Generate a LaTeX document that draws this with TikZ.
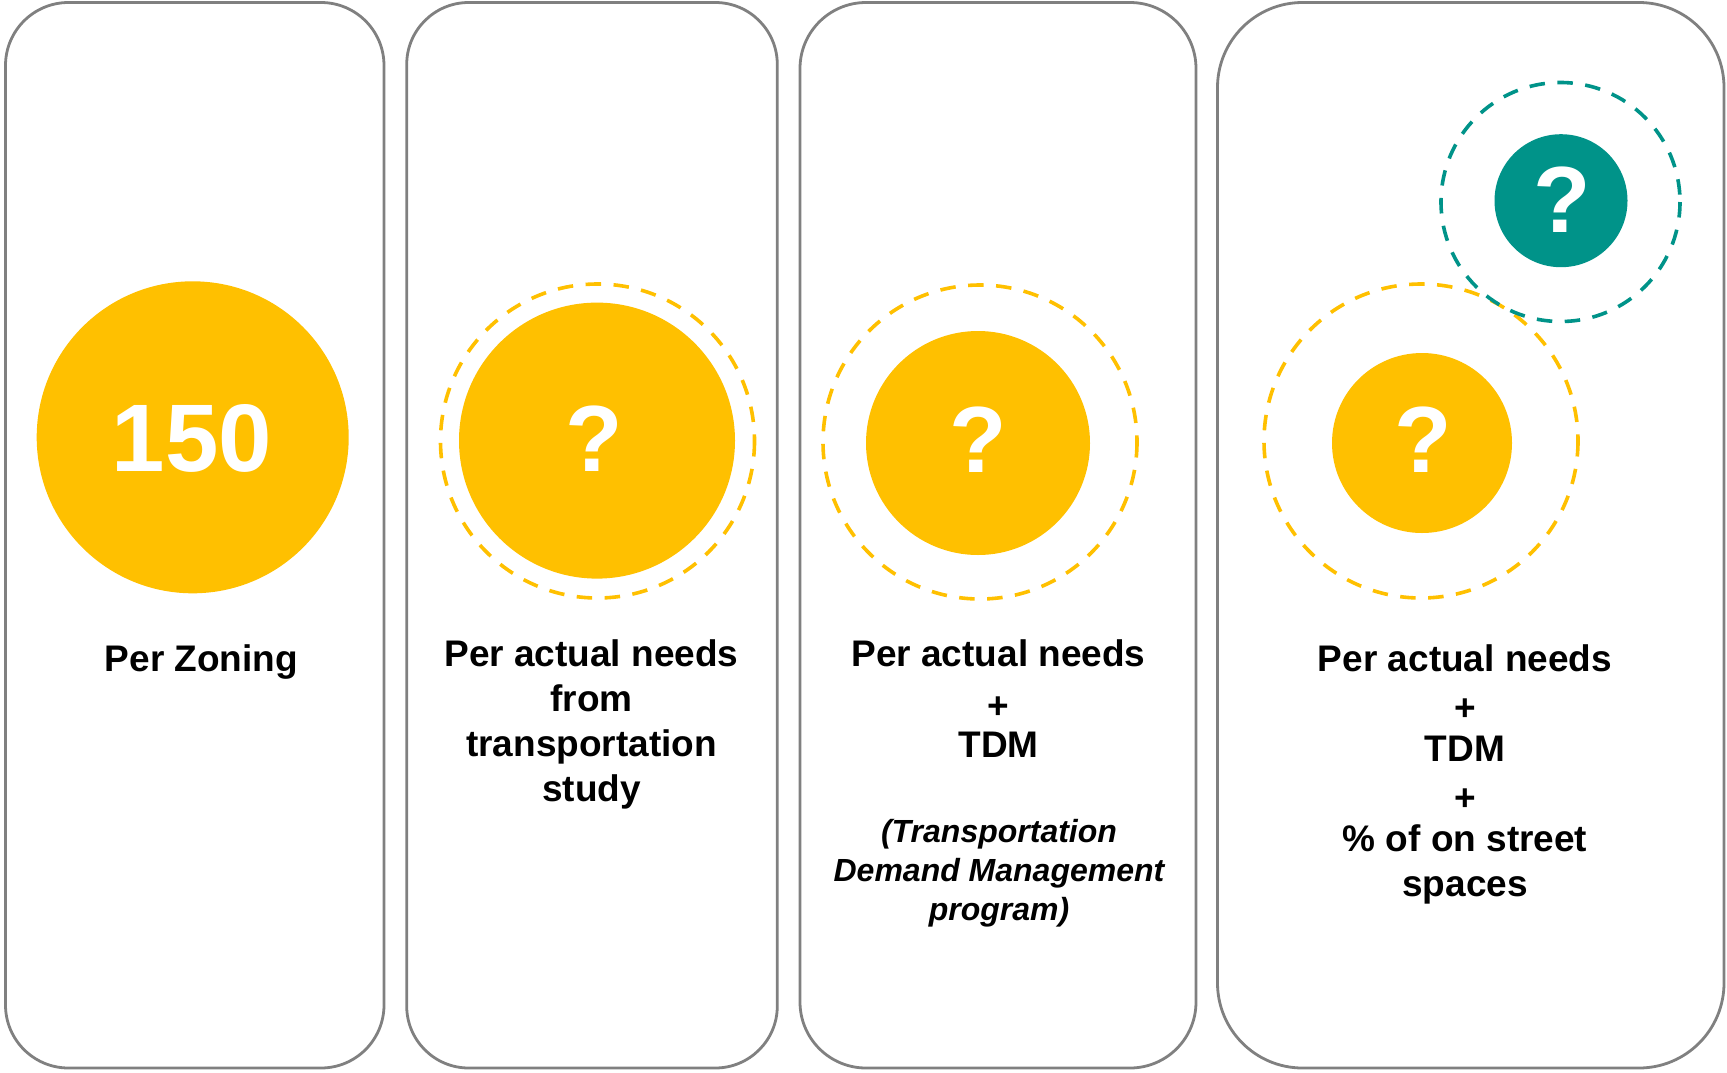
\documentclass[tikz,border=0pt]{standalone}
\usepackage{fontspec}
\setmainfont{Liberation Sans}
\definecolor{gold}{HTML}{FFC000}
\definecolor{tealc}{HTML}{009389}
\definecolor{framec}{HTML}{808080}
\begin{document}
\begin{tikzpicture}[x=1pt,y=-1pt,
 panel/.style={draw=framec,line width=2.8pt},
 disc/.style={circle,fill=gold,draw=none,inner sep=0pt},
 ring/.style={draw=gold,line width=3.6pt,dash pattern=on 15.5pt off 12.5pt},
 lbl/.style={anchor=base,font=\bfseries\fontsize{37}{45}\selectfont,inner sep=0pt},
 ital/.style={anchor=base,font=\bfseries\itshape\fontsize{32}{38}\selectfont,inner sep=0pt},
 qm/.style={text=white,font=\bfseries\fontsize{94}{94}\selectfont}]
\useasboundingbox[fill=white] (0,0) rectangle (1727,1072);
% panels
\draw[panel,rounded corners=63pt] (5.5,2.5) rectangle (384,1068);
\draw[panel,rounded corners=62pt] (406.7,2.5) rectangle (777.3,1068);
\draw[panel,rounded corners=66pt] (800,2.5) rectangle (1196,1068);
\draw[panel,rounded corners=85pt] (1217.5,2.5) rectangle (1724,1068);
% panel 1
\node[disc,minimum size=312pt] (c1) at (192.7,437.3) {};
\node[qm,font=\bfseries\fontsize{96}{96}\selectfont] (n150) at (192,438) {150};
\node[lbl] (t1) at (201.5,671.7) {Per Zoning};
% panel 2
\draw[ring] (597.5,441) circle[radius=157];
\node[disc,minimum size=276pt] (c2) at (597,440.6) {};
\node[qm] (q2) at (594,439) {?};
\node[lbl] (t2a) at (591.5,666.7) {Per actual needs};
\node[lbl] (t2b) at (591.5,711.7) {from};
\node[lbl] (t2c) at (591.5,756.7) {transportation};
\node[lbl] (t2d) at (591.5,801.7) {study};
% panel 3
\draw[ring] (980,442) circle[radius=157];
\node[disc,minimum size=224pt] (c3) at (978,443) {};
\node[qm] (q3) at (978,440) {?};
\node[lbl] (t3a) at (998.5,666.7) {Per actual needs};
\node[lbl] (t3b) at (998.5,718) {+};
\node[lbl] (t3c) at (998.5,757) {TDM};
\node[ital] (t3d) at (999,842) {(Transportation};
\node[ital] (t3e) at (999,881.5) {Demand Management};
\node[ital] (t3f) at (999,920) {program)};
% panel 4
\draw[ring] (1421,441) circle[radius=157];
\draw[ring,draw=tealc] (1560.5,202) circle[radius=119.5];
\node[disc,minimum size=180pt] (c4) at (1422,443) {};
\node[qm] (q4) at (1423,440) {?};
\node[disc,fill=tealc,minimum size=133pt] (c5) at (1561,200.7) {};
\node[qm] (q5) at (1562.5,200) {?};
\node[lbl] (t4a) at (1465,671.7) {Per actual needs};
\node[lbl] (t4b) at (1465,720) {+};
\node[lbl] (t4c) at (1465,761.7) {TDM};
\node[lbl] (t4d) at (1465,810) {+};
\node[lbl] (t4e) at (1465,851.7) {\% of on street};
\node[lbl] (t4f) at (1465,896.7) {spaces};
\end{tikzpicture}
\end{document}
